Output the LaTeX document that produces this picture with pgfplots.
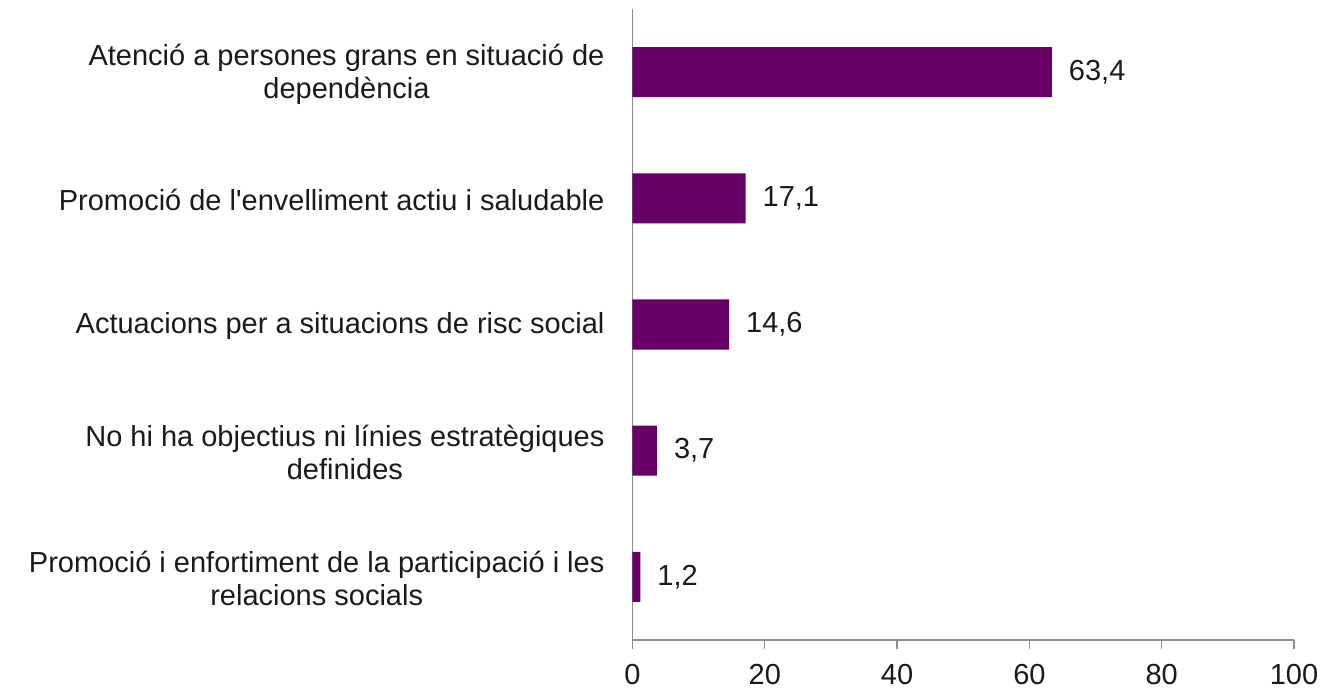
\documentclass[border=0pt]{standalone}
\usepackage{fontspec}
\setmainfont{Liberation Sans}
\usepackage{pgfplots}
\pgfplotsset{compat=1.18}
\definecolor{barpurple}{HTML}{660066}
\definecolor{axgray}{HTML}{8C8C8C}
\definecolor{txt}{HTML}{1A1A1A}

\begin{document}
\begin{tikzpicture}[x=1pt,y=1pt]
\begin{axis}[
  at={(0,0)}, anchor=south west,
  xbar, bar width=25pt,
  width=330.75pt, height=315.5pt, scale only axis,
  xmin=0, xmax=100, ymin=0.5, ymax=5.5,
  y dir=reverse,
  axis x line=bottom, axis y line=left,
  axis line style={draw=axgray,line width=0.6pt,-},
  xtick={0,20,40,60,80,100},
  xtick style={draw=axgray,line width=0.6pt},
  tick align=outside, major tick length=4.5pt,
  ytick={1,2,3,4,5},
  ytick style={draw=none},
  yticklabels={{Atenció a persones grans en situació de\\dependència},
               {Promoció de l\textquotesingle envelliment actiu i saludable},
               {Actuacions per a situacions de risc social},
               {No hi ha objectius ni línies estratègiques\\definides},
               {Promoció i enfortiment de la participació i les\\relacions socials}},
  yticklabel style={align=center,font=\fontsize{14.5}{16.5}\selectfont,text=txt,xshift=-6pt,yshift=-1pt},
  xticklabel style={font=\fontsize{14.5}{16}\selectfont,text=txt,yshift=-4pt},
  /pgf/number format/assume math mode=true,
  nodes near coords={\pgfmathprintnumber[use comma,fixed,precision=1,fixed zerofill]{\pgfplotspointmeta}},
  nodes near coords style={font=\fontsize{14.5}{16}\selectfont,text=txt,anchor=west,xshift=5pt},
]
\addplot[fill=barpurple,draw=none] coordinates {(63.4,1) (17.1,2) (14.6,3) (3.7,4) (1.2,5)};
\end{axis}
\pgfresetboundingbox
\path[use as bounding box] (-316.25pt,-24.5pt) rectangle (344.75pt,320pt);
\end{tikzpicture}
\end{document}
